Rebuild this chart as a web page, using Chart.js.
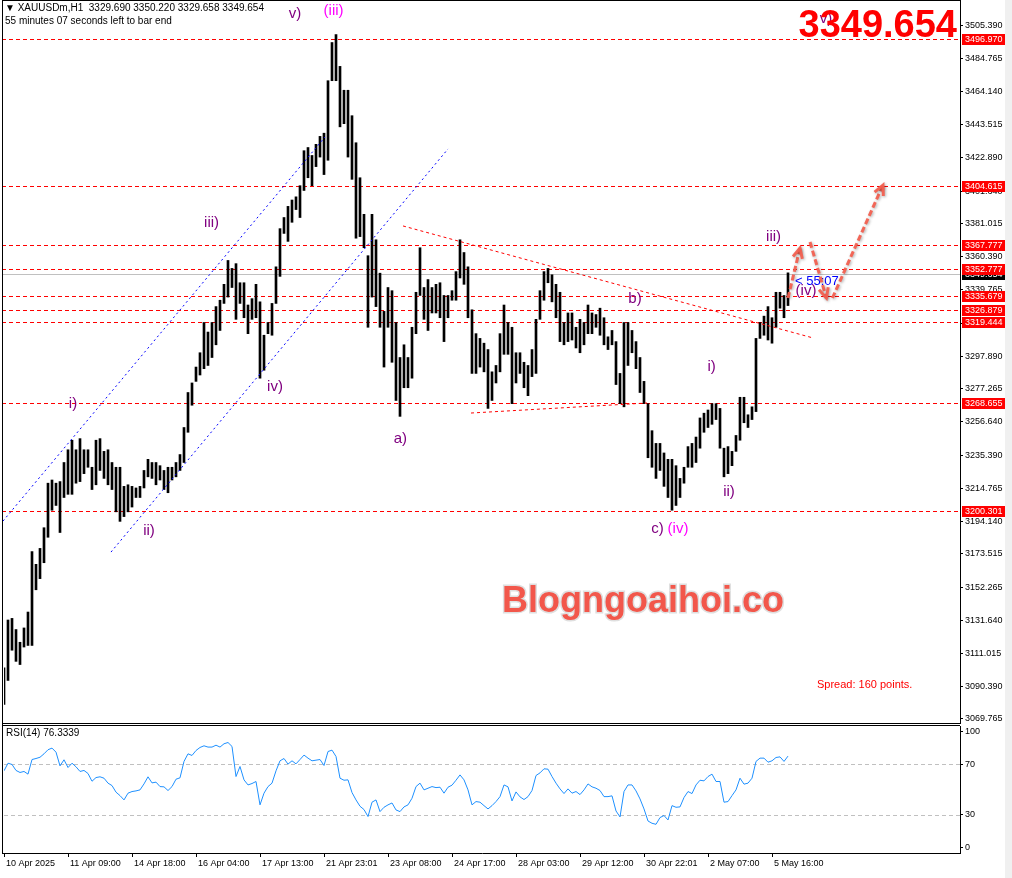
<!DOCTYPE html>
<html>
<head>
<meta charset="utf-8">
<script src="https://cdn.jsdelivr.net/npm/chart.js@4.4.1/dist/chart.umd.min.js"></script>
<style>
  html, body { margin: 0; padding: 0; background: #fff; }
  #wrap { position: relative; width: 1012px; height: 878px; overflow: hidden; background: #fff; }
  canvas { position: absolute; left: 0; }
  #price { top: 0; }
  #rsi { top: 724px; }
</style>
</head>
<body>
<div id="wrap">
  <canvas id="price" width="1012" height="724"></canvas>
  <canvas id="rsi" width="1012" height="154"></canvas>
</div>
<script>
// XAUUSDm H1, one slot = two hourly bars (high / low)
const barHigh = [
  3102, 3132, 3133, 3126, 3118, 3127, 3137, 3175, 3167, 3177,
  3190, 3218, 3220, 3218, 3219, 3231, 3239, 3245, 3239, 3246,
  3239, 3239, 3228, 3245, 3246, 3238, 3239, 3231, 3228, 3228,
  3216, 3217, 3216, 3215, 3216, 3226, 3233, 3231, 3231, 3229,
  3226, 3228, 3228, 3231, 3236, 3253, 3275, 3281, 3291, 3300,
  3319, 3313, 3319, 3329, 3333, 3343, 3358, 3353, 3356, 3344,
  3344, 3330, 3334, 3343, 3332, 3311, 3319, 3331, 3354, 3378,
  3385, 3392, 3396, 3398, 3405, 3427, 3429, 3424, 3431, 3436,
  3438, 3471, 3495, 3500, 3480, 3465, 3465, 3449, 3432, 3410,
  3387, 3361, 3387, 3371, 3350, 3326, 3341, 3339, 3319, 3297,
  3305, 3297, 3316, 3338, 3366, 3341, 3346, 3341, 3343, 3344,
  3336, 3336, 3339, 3351, 3371, 3363, 3354, 3327, 3312, 3309,
  3306, 3302, 3288, 3292, 3312, 3330, 3319, 3316, 3300, 3300,
  3294, 3292, 3302, 3321, 3339, 3351, 3353, 3349, 3343, 3338,
  3319, 3325, 3325, 3316, 3321, 3319, 3330, 3325, 3324, 3328,
  3322, 3310, 3314, 3307, 3287, 3319, 3319, 3314, 3307, 3297,
  3282, 3268, 3251, 3243, 3243, 3237, 3233, 3233, 3229, 3221,
  3228, 3241, 3243, 3247, 3259, 3262, 3264, 3268, 3268, 3265,
  3240, 3241, 3238, 3248, 3272, 3272, 3261, 3266, 3309, 3319,
  3323, 3329, 3322, 3338, 3338, 3336, 3350.22
];
const barLow = [
  3079, 3094, 3113, 3106, 3104, 3115, 3116, 3116, 3151, 3158,
  3168, 3184, 3201, 3204, 3187, 3209, 3211, 3211, 3218, 3219,
  3224, 3228, 3214, 3217, 3226, 3221, 3217, 3214, 3200, 3194,
  3197, 3200, 3203, 3209, 3209, 3215, 3222, 3221, 3217, 3220,
  3214, 3212, 3220, 3222, 3226, 3231, 3250, 3267, 3282, 3286,
  3290, 3292, 3297, 3305, 3314, 3331, 3335, 3341, 3321, 3331,
  3322, 3312, 3321, 3322, 3284, 3289, 3312, 3311, 3331, 3348,
  3375, 3370, 3382, 3390, 3385, 3402, 3410, 3405, 3417, 3423,
  3412, 3421, 3471, 3471, 3442, 3444, 3423, 3409, 3372, 3373,
  3366, 3316, 3335, 3329, 3316, 3291, 3316, 3294, 3270, 3260,
  3278, 3278, 3284, 3312, 3336, 3321, 3314, 3325, 3325, 3322,
  3307, 3322, 3333, 3333, 3347, 3343, 3322, 3287, 3287, 3291,
  3288, 3265, 3270, 3281, 3288, 3299, 3299, 3268, 3281, 3287,
  3278, 3273, 3285, 3287, 3321, 3333, 3344, 3332, 3322, 3307,
  3305, 3307, 3308, 3303, 3300, 3305, 3312, 3312, 3316, 3311,
  3305, 3302, 3305, 3280, 3268, 3266, 3292, 3300, 3290, 3275,
  3268, 3234, 3228, 3221, 3226, 3216, 3209, 3201, 3204, 3209,
  3218, 3228, 3228, 3231, 3240, 3250, 3253, 3255, 3258, 3240,
  3222, 3224, 3229, 3238, 3245, 3256, 3253, 3258, 3263, 3309,
  3311, 3308, 3306, 3316, 3328, 3322, 3329.658
];
const rsiValues = [
  64.7, 70.7, 69.7, 65.0, 63.4, 64.2, 62.1, 73.6, 74.4, 75.4,
  78.1, 81.3, 82.6, 79.4, 68.6, 73.4, 67.3, 70.7, 67.9, 64.2,
  65.0, 62.6, 56.5, 59.4, 60.0, 58.9, 55.0, 53.1, 47.9, 45.2,
  41.8, 47.1, 48.4, 48.9, 49.7, 54.4, 60.0, 55.2, 55.8, 52.3,
  52.1, 49.2, 52.3, 58.1, 59.2, 72.1, 78.1, 76.8, 80.7, 83.1,
  84.4, 83.4, 83.4, 84.9, 83.4, 86.0, 87.0, 83.9, 60.2, 68.1,
  57.6, 53.6, 54.7, 56.3, 37.9, 47.1, 52.3, 55.0, 64.7, 72.6,
  74.4, 70.0, 72.6, 70.2, 73.6, 77.1, 74.7, 72.6, 73.1, 73.6,
  68.9, 79.9, 81.0, 76.0, 58.9, 57.3, 57.6, 47.6, 41.8, 36.8,
  34.2, 28.7, 40.0, 41.8, 32.6, 36.0, 37.9, 39.4, 33.9, 32.6,
  36.3, 37.9, 43.1, 52.3, 55.0, 49.7, 51.0, 52.3, 51.5, 51.8,
  47.1, 51.8, 53.4, 57.3, 61.5, 57.6, 49.7, 37.9, 40.5, 40.0,
  37.3, 34.7, 37.3, 40.5, 44.4, 53.6, 52.1, 41.0, 48.1, 44.2,
  42.1, 44.4, 49.2, 61.0, 63.1, 66.3, 66.0, 60.2, 55.0, 50.5,
  46.8, 50.5, 47.1, 48.4, 46.0, 49.7, 54.4, 52.1, 51.0, 49.2,
  44.4, 44.4, 45.0, 33.1, 28.4, 48.4, 53.6, 53.6, 48.9, 42.6,
  34.7, 25.2, 23.4, 22.6, 27.9, 29.5, 26.0, 37.3, 36.0, 36.3,
  43.7, 48.4, 46.8, 53.6, 57.3, 56.8, 60.2, 62.1, 56.3, 56.3,
  40.0, 40.5, 45.2, 49.7, 58.9, 54.2, 55.0, 58.9, 72.1, 74.7,
  74.7, 71.5, 72.6, 75.2, 75.7, 72.1, 76.3
];

const priceTicks = [3505.390, 3484.765, 3464.140, 3443.515, 3422.890, 3401.640, 3381.015,
  3360.390, 3339.765, 3318.515, 3297.890, 3277.265, 3256.640, 3235.390, 3214.765,
  3194.140, 3173.515, 3152.265, 3131.640, 3111.015, 3090.390, 3069.765];
const levels = [3496.970, 3404.615, 3367.777, 3352.777, 3335.679, 3326.879, 3319.444, 3268.655, 3200.301];
const lastPrice = 3349.654;

const timeLabels = ['10 Apr 2025', '11 Apr 09:00', '14 Apr 18:00', '16 Apr 04:00', '17 Apr 13:00',
  '21 Apr 23:01', '23 Apr 08:00', '24 Apr 17:00', '28 Apr 03:00', '29 Apr 12:00',
  '30 Apr 22:01', '2 May 07:00', '5 May 16:00'];
const timeTickSlots = [0, 16, 32, 48, 64, 80, 96, 112, 128, 144, 160, 176, 192];

const rsiTickLabels = ['100', '70', '30', '0'];
const rsiTickValues = [96, 70, 30, 4];   // 100 and 0 drawn inset like the terminal does
const rsiLevels = [70, 30];

// wave counts, trend lines and arrows in (slot, price)
const waveLabels = [
  { t: 'v)', i: 72.75, p: 3513.2, c: '#800080' },
  { t: '(iii)', i: 82.4, p: 3514.8, c: '#ff00ff' },
  { t: 'iii)', i: 51.9, p: 3381.9, c: '#800080' },
  { t: 'i)', i: 17.25, p: 3267.8, c: '#800080' },
  { t: 'ii)', i: 36.25, p: 3187.9, c: '#800080' },
  { t: 'iv)', i: 67.75, p: 3278.5, c: '#800080' },
  { t: 'a)', i: 99.1, p: 3245.8, c: '#800080' },
  { t: 'b)', i: 157.75, p: 3333.8, c: '#800080' },
  { t: 'c)', i: 163.4, p: 3189.5, c: '#800080' },
  { t: '(iv)', i: 168.5, p: 3189.5, c: '#ff00ff' },
  { t: 'i)', i: 176.9, p: 3291.3, c: '#800080' },
  { t: 'ii)', i: 181.25, p: 3212.8, c: '#800080' },
  { t: 'iii)', i: 192.4, p: 3373.1, c: '#800080' },
  { t: '(iv)', i: 200.5, p: 3338.8, c: '#800080' },
  { t: 'v)', i: 205.5, p: 3509.8, c: '#800080' }
];
const channelLines = [
  [-0.25, 3194.2, 80.25, 3435.6],
  [26.75, 3174.7, 111, 3428.1]
];
const triangleLines = [
  [99.75, 3379.7, 202.25, 3309.3],
  [116.75, 3262.1, 160.75, 3268.4]
];
const arrows = [
  [196, 3334.4, 199, 3365.8],
  [201.5, 3369.6, 205.6, 3334.4],
  [207.1, 3334.4, 219.75, 3405.4]
];

const FONT = 'Liberation Sans, Arial, sans-serif';

function hline(ctx, x1, x2, y) {
  const yy = Math.round(y) + 0.5;
  ctx.beginPath(); ctx.moveTo(x1, yy); ctx.lineTo(x2, yy); ctx.stroke();
}

function drawArrow(ctx, x1, y1, x2, y2) {
  const ang = Math.atan2(y2 - y1, x2 - x1);
  ctx.save();
  ctx.strokeStyle = 'rgba(242,96,80,0.95)';
  ctx.lineWidth = 3;
  ctx.lineCap = 'butt';
  ctx.shadowColor = 'rgba(0,0,0,0.35)';
  ctx.shadowBlur = 3;
  ctx.shadowOffsetX = 1;
  ctx.shadowOffsetY = 1;
  ctx.setLineDash([6, 3]);
  ctx.beginPath(); ctx.moveTo(x1, y1); ctx.lineTo(x2, y2); ctx.stroke();
  ctx.setLineDash([]);
  const h = 11;
  ctx.beginPath();
  ctx.moveTo(x2 - h * Math.cos(ang - 0.45), y2 - h * Math.sin(ang - 0.45));
  ctx.lineTo(x2, y2);
  ctx.lineTo(x2 - h * Math.cos(ang + 0.45), y2 - h * Math.sin(ang + 0.45));
  ctx.stroke();
  ctx.restore();
}

function axisTag(ctx, y, text, bg) {
  ctx.fillStyle = bg;
  ctx.fillRect(962, Math.round(y) - 5, 43, 11);
  ctx.fillStyle = '#fff';
  ctx.font = '9px ' + FONT;
  ctx.textAlign = 'left';
  ctx.textBaseline = 'middle';
  ctx.fillText(text, 965, Math.round(y) + 0.5);
}

const pricePlugin = {
  id: 'priceOverlay',
  beforeDatasetsDraw(chart) {
    const { ctx, chartArea: a, scales: { y } } = chart;
    ctx.save();
    ctx.lineWidth = 1;
    ctx.strokeStyle = '#c0c0c0';
    hline(ctx, a.left - 2, a.right, y.getPixelForValue(lastPrice));
    ctx.strokeStyle = '#ff0000';
    ctx.setLineDash([4, 3]);
    levels.forEach(v => hline(ctx, a.left - 2, a.right, y.getPixelForValue(v)));
    ctx.restore();
  },
  afterDatasetsDraw(chart) {
    const { ctx, chartArea: a, scales: { x, y } } = chart;
    ctx.save();
    ctx.beginPath();
    ctx.rect(a.left - 2, a.top, a.right - a.left + 2, a.bottom - a.top);
    ctx.clip();

    // channel
    ctx.lineWidth = 1;
    ctx.strokeStyle = '#0000ff';
    ctx.setLineDash([2, 3]);
    channelLines.forEach(l => {
      ctx.beginPath();
      ctx.moveTo(x.getPixelForValue(l[0]), y.getPixelForValue(l[1]));
      ctx.lineTo(x.getPixelForValue(l[2]), y.getPixelForValue(l[3]));
      ctx.stroke();
    });
    // triangle
    ctx.strokeStyle = '#ff0000';
    ctx.setLineDash([3, 3]);
    triangleLines.forEach(l => {
      ctx.beginPath();
      ctx.moveTo(x.getPixelForValue(l[0]), y.getPixelForValue(l[1]));
      ctx.lineTo(x.getPixelForValue(l[2]), y.getPixelForValue(l[3]));
      ctx.stroke();
    });
    ctx.setLineDash([]);

    // watermark
    ctx.font = 'bold 36px ' + FONT;
    ctx.textAlign = 'left';
    ctx.textBaseline = 'alphabetic';
    ctx.lineWidth = 3;
    ctx.strokeStyle = 'rgba(215,215,215,0.8)';
    ctx.strokeText('Blogngoaihoi.co', 502, 612);
    ctx.fillStyle = '#f2574b';
    ctx.fillText('Blogngoaihoi.co', 502, 612);

    // wave counts
    ctx.font = '15px ' + FONT;
    ctx.textAlign = 'center';
    ctx.textBaseline = 'middle';
    waveLabels.forEach(w => {
      ctx.fillStyle = w.c;
      ctx.fillText(w.t, x.getPixelForValue(w.i), y.getPixelForValue(w.p));
    });

    // bar timer
    ctx.font = '13px ' + FONT;
    ctx.textAlign = 'left';
    ctx.fillStyle = '#0000ff';
    ctx.fillText('< 55:07', x.getPixelForValue(197.75), y.getPixelForValue(3345.1));

    arrows.forEach(r => drawArrow(ctx,
      x.getPixelForValue(r[0]), y.getPixelForValue(r[1]),
      x.getPixelForValue(r[2]), y.getPixelForValue(r[3])));

    // spread
    ctx.font = '11px ' + FONT;
    ctx.fillStyle = '#ff0000';
    ctx.textAlign = 'left';
    ctx.textBaseline = 'middle';
    ctx.fillText('Spread: 160 points.', 817, 685);

    // big price
    ctx.font = 'bold 38px ' + FONT;
    ctx.textAlign = 'right';
    ctx.textBaseline = 'alphabetic';
    ctx.fillStyle = '#ff0000';
    ctx.fillText(lastPrice.toFixed(3), 957, 37);
    ctx.restore();
  },
  afterDraw(chart) {
    const { ctx, chartArea: a, scales: { y } } = chart;
    ctx.save();
    // frame
    ctx.strokeStyle = '#000';
    ctx.lineWidth = 1;
    ctx.beginPath();
    ctx.moveTo(2.5, 0); ctx.lineTo(2.5, 724);
    ctx.stroke();
    hline(ctx, 2, a.right, 0);
    hline(ctx, 2, a.right, a.bottom);
    // header
    ctx.fillStyle = '#000';
    ctx.font = '10px ' + FONT;
    ctx.textAlign = 'left';
    ctx.textBaseline = 'middle';
    ctx.fillText('\u25BC XAUUSDm,H1  3329.690 3350.220 3329.658 3349.654', 5, 8);
    ctx.fillText('55 minutes 07 seconds left to bar end', 5, 21);
    // price tags on the axis
    axisTag(ctx, y.getPixelForValue(lastPrice), lastPrice.toFixed(3), '#000');
    levels.forEach(v => axisTag(ctx, y.getPixelForValue(v), v.toFixed(3), '#ff0000'));
    ctx.fillStyle = '#f0f0f0';
    ctx.fillRect(1005, 0, 7, 724);
    ctx.restore();
  }
};

const rsiPlugin = {
  id: 'rsiOverlay',
  beforeDatasetsDraw(chart) {
    const { ctx, chartArea: a, scales: { y } } = chart;
    ctx.save();
    ctx.strokeStyle = '#c0c0c0';
    ctx.lineWidth = 1;
    ctx.setLineDash([4, 3]);
    rsiLevels.forEach(v => hline(ctx, a.left, a.right, y.getPixelForValue(v)));
    ctx.restore();
  },
  afterDraw(chart) {
    const { ctx, chartArea: a } = chart;
    ctx.save();
    ctx.strokeStyle = '#000';
    ctx.lineWidth = 1;
    ctx.beginPath();
    ctx.moveTo(2.5, 0); ctx.lineTo(2.5, a.bottom);
    ctx.stroke();
    hline(ctx, 2, a.right, 1);
    hline(ctx, 2, a.left, a.bottom);
    ctx.fillStyle = '#000';
    ctx.font = '10px ' + FONT;
    ctx.textAlign = 'left';
    ctx.textBaseline = 'middle';
    ctx.fillText('RSI(14) ' + '76.3339', 6, 9);
    ctx.fillStyle = '#f0f0f0';
    ctx.fillRect(1005, 0, 7, 154);
    ctx.restore();
  }
};

const tickFont = { family: FONT, size: 9 };

new Chart(document.getElementById('price'), {
  type: 'bar',
  data: {
    datasets: [{
      data: barHigh.map((h, i) => ({ x: i, y: [barLow[i], h] })),
      backgroundColor: '#000',
      barThickness: 2,
      borderWidth: 0
    }]
  },
  options: {
    responsive: false,
    animation: false,
    devicePixelRatio: 1,
    layout: { padding: { left: 4, top: 0, right: 0, bottom: 1 } },
    plugins: { legend: { display: false }, tooltip: { enabled: false } },
    scales: {
      x: { type: 'linear', min: 0, max: 239, offset: false, display: false },
      y: {
        position: 'right',
        min: 3067.25,
        max: 3521.73,
        afterBuildTicks: s => { s.ticks = priceTicks.map(v => ({ value: v })); },
        afterFit: s => { s.width = 52; s.paddingTop = 0; s.paddingBottom = 0; },
        ticks: { color: '#000', font: tickFont, padding: 2, autoSkip: false, callback: v => v.toFixed(3) },
        grid: { drawOnChartArea: false, drawTicks: true, tickLength: 3, tickColor: '#000' },
        border: { display: true, color: '#000' }
      }
    }
  },
  plugins: [pricePlugin]
});

new Chart(document.getElementById('rsi'), {
  type: 'line',
  data: {
    datasets: [{
      data: rsiValues.map((v, i) => ({ x: i, y: v })),
      borderColor: '#1e90ff',
      borderWidth: 1,
      pointRadius: 0,
      tension: 0,
      fill: false
    }]
  },
  options: {
    responsive: false,
    animation: false,
    devicePixelRatio: 1,
    layout: { padding: { left: 4, top: 2, right: 0, bottom: 0 } },
    plugins: { legend: { display: false }, tooltip: { enabled: false } },
    scales: {
      x: {
        type: 'linear',
        min: 0,
        max: 239,
        afterBuildTicks: s => { s.ticks = timeTickSlots.map(v => ({ value: v })); },
        afterFit: s => { s.height = 25; s.paddingLeft = 0; s.paddingRight = 0; },
        ticks: {
          autoSkip: false, maxRotation: 0, align: 'start', labelOffset: 2, padding: 1,
          color: '#000', font: tickFont,
          callback: (v, idx) => timeLabels[idx]
        },
        grid: { drawOnChartArea: false, drawTicks: true, tickLength: 4, tickColor: '#000' },
        border: { display: true, color: '#000' }
      },
      y: {
        position: 'right',
        min: 0,
        max: 100,
        afterBuildTicks: s => { s.ticks = rsiTickValues.map(v => ({ value: v })); },
        afterFit: s => { s.width = 52; s.paddingTop = 0; s.paddingBottom = 0; },
        ticks: { color: '#000', font: tickFont, padding: 2, autoSkip: false, callback: (v, idx) => rsiTickLabels[idx] },
        grid: { drawOnChartArea: false, drawTicks: true, tickLength: 3, tickColor: '#000' },
        border: { display: true, color: '#000' }
      }
    }
  },
  plugins: [rsiPlugin]
});
</script>
</body>
</html>
